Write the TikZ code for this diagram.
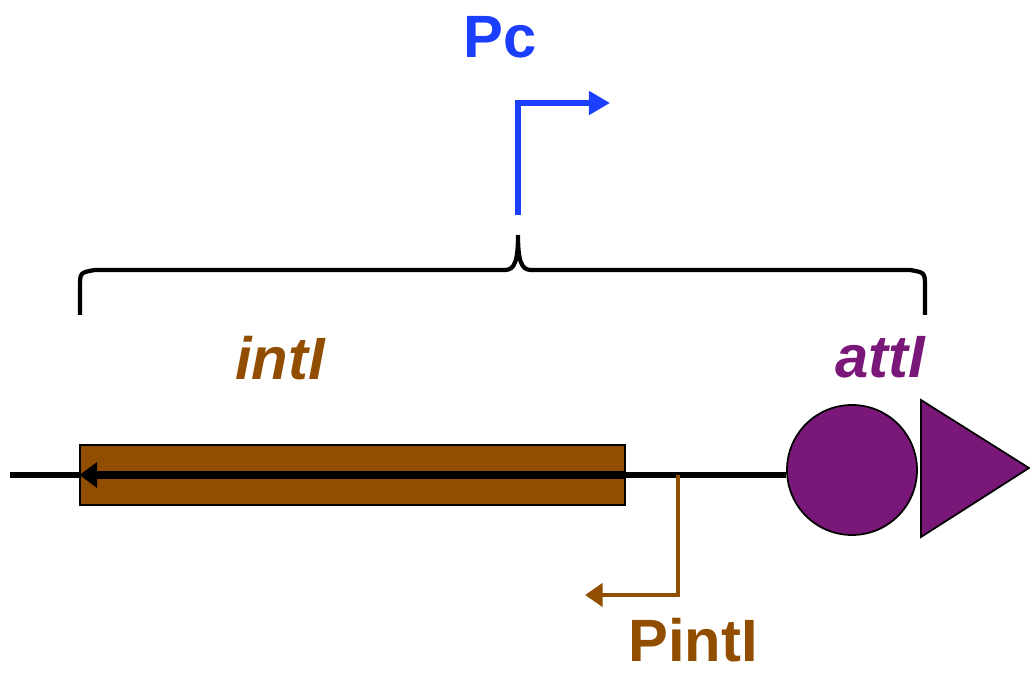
\documentclass[tikz,border=0pt]{standalone}
\usepackage{fontspec}
\setmainfont{Liberation Sans}
\usetikzlibrary{arrows.meta}
\definecolor{intlbrown}{RGB}{146,78,0}
\definecolor{attpurple}{RGB}{122,24,122}
\definecolor{pcblue}{RGB}{28,62,255}
\begin{document}
\begin{tikzpicture}[>={Triangle[length=10pt,width=14pt]},font=\fontsize{34}{40}\selectfont\bfseries]
  \useasboundingbox (0,0) rectangle (20.6,-13.46);

  % gene box and site
  \node[draw=black,line width=0.6pt,fill=intlbrown,minimum width=10.9cm,minimum height=1.2cm,inner sep=0pt] (intl) at (7.05,-9.5) {};
  \node[circle,draw=black,line width=1pt,fill=attpurple,minimum size=2.6cm,inner sep=0pt] (att) at (17.04,-9.4) {};
  \coordinate (L) at (0.2,-9.5);

  % DNA line
  \draw[line width=3.3pt] (L) -- (intl.west);
  \draw[line width=3.3pt] (intl.east) -- (att.west |- intl.east);
  \draw[line width=4.2pt,->] (intl.east) -- (intl.west);

  % triangle right of circle
  \coordinate (T1) at (18.42,-8.0);
  \coordinate (T2) at (18.42,-10.74);
  \coordinate (T3) at (20.58,-9.36);
  \draw[line width=1pt,fill=attpurple] (T1) -- (T3) -- (T2) -- cycle;

  % brace
  \draw[line width=2.4pt] (1.6,-6.3) -- (1.6,-5.75) .. controls (1.6,-5.45) .. (1.9,-5.4)
    -- (10.1,-5.4) .. controls (10.3,-5.4) and (10.36,-5.2) .. (10.36,-4.7)
    .. controls (10.36,-5.2) and (10.42,-5.4) .. (10.62,-5.4)
    -- (18.2,-5.4) .. controls (18.5,-5.45) .. (18.5,-5.75) -- (18.5,-6.3);

  % Pc promoter
  \coordinate (pc0) at (10.36,-4.3);
  \coordinate (pc1) at (10.36,-2.06);
  \coordinate (pc2) at (12.2,-2.06);
  \draw[pcblue,line width=3.6pt,>={Triangle[length=12pt,width=13pt]},->] (pc0) -- (pc1) -- (pc2);

  % Pintl promoter
  \coordinate (pi0) at (13.56,-9.5);
  \coordinate (pi1) at (13.56,-11.9);
  \coordinate (pi2) at (11.7,-11.9);
  \draw[intlbrown,line width=2.7pt,>={Triangle[length=10pt,width=13pt]},->] (pi0) -- (pi1) -- (pi2);

  % labels
  \node[text=pcblue] (pcl) at (10.0,-0.74) {Pc};
  \node[text=intlbrown] (pil) at (13.86,-12.8) {PintI};
  \node[text=intlbrown,font=\fontsize{34}{40}\selectfont\bfseries\itshape] (intll) at (5.6,-7.16) {intI};
  \node[text=attpurple,font=\fontsize{34}{40}\selectfont\bfseries\itshape] (attl) at (17.6,-7.14) {attI};
\end{tikzpicture}
\end{document}
